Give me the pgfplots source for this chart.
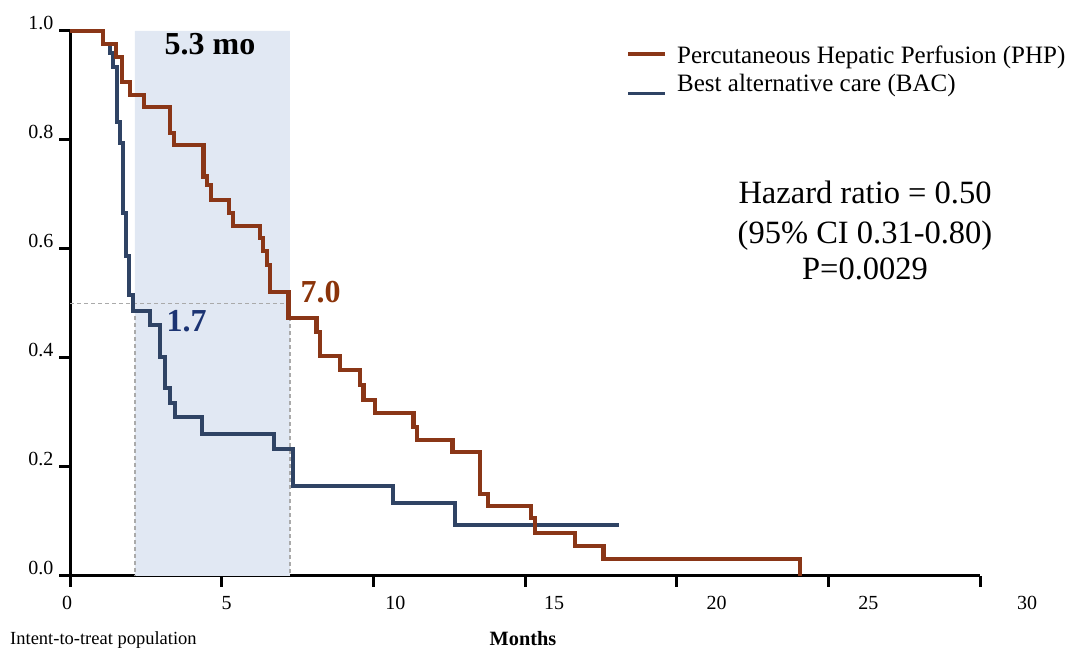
\documentclass[border=0pt]{standalone}
\usepackage{fontspec}
\setmainfont{Liberation Serif}
\usepackage{pgfplots}
\pgfplotsset{compat=1.18}
\definecolor{phpc}{RGB}{138,54,23}
\definecolor{bacc}{RGB}{47,67,100}
\definecolor{phptxt}{RGB}{139,52,10}
\definecolor{bactxt}{RGB}{28,52,115}
\definecolor{shade}{RGB}{225,232,243}
\definecolor{dgray}{RGB}{170,170,170}
\begin{document}
\begin{tikzpicture}
\path[use as bounding box] (0pt,0pt) rectangle (1068pt,648pt);
\begin{axis}[
  at={(70pt,72pt)}, anchor=south west,
  scale only axis, width=910pt, height=545pt,
  xmin=0, xmax=30, ymin=0, ymax=1,
  axis lines=left,
  axis line style={-, line width=3pt, black},
  clip=false,
  xtick={0,5,...,30},
  ytick={0,0.2,0.4,0.6,0.8,1.0},
  yticklabels={0.0,0.2,0.4,0.6,0.8,1.0},
  tick align=outside,
  major tick length=11pt,
  tick style={black, line width=3pt},
  major tick style={black, line width=3pt},
  /pgf/number format/assume math mode=true,
  xticklabel={\pgfmathsetmacro\sh{{-3,5,22,29,40,40,47}[\ticknum]}\makebox[0pt][l]{\hspace*{\sh pt}\makebox[0pt]{\pgfmathprintnumber{\tick}}}},
  x tick label style={font=\fontsize{20}{24}\selectfont, anchor=north, yshift=-6pt},
  y tick label style={font=\fontsize{20}{24}\selectfont, anchor=east, yshift=8pt, xshift=-2pt},
]
% shaded interval
\addplot[draw=none, fill=shade] coordinates {(2.14,0) (7.25,0) (7.25,1) (2.14,1) (2.14,0)};
% median guide lines
\addplot[dgray, line width=1.6pt, dash pattern=on 4pt off 3pt] coordinates {(0,0.5) (7.25,0.5)};
\addplot[dgray, line width=1.6pt, dash pattern=on 4pt off 3pt] coordinates {(2.14,0.49) (2.14,0)};
\addplot[dgray, line width=1.6pt, dash pattern=on 4pt off 3pt] coordinates {(7.25,0.5) (7.25,0)};
% BAC
\addplot[const plot, bacc, line width=4pt] coordinates {
(0,1) (1.088,0.976) (1.319,0.960) (1.418,0.934) (1.533,0.833) (1.632,0.794)
(1.731,0.666) (1.830,0.587) (1.929,0.516) (2.061,0.486) (2.638,0.461)
(2.967,0.402) (3.132,0.345) (3.297,0.317) (3.462,0.292) (4.352,0.2606)
(6.726,0.233) (7.352,0.165) (10.65,0.134) (12.69,0.0936) (18.10,0.0936)};
% PHP
\addplot[const plot, phpc, line width=4.3pt] coordinates {
(0,1) (1.088,0.976) (1.517,0.952) (1.714,0.906) (1.978,0.883) (2.44,0.861)
(3.297,0.813) (3.429,0.791) (4.40,0.733) (4.517,0.718) (4.649,0.690)
(5.242,0.666) (5.374,0.642) (6.264,0.620) (6.363,0.596) (6.495,0.570)
(6.594,0.521) (7.204,0.473) (8.127,0.448) (8.243,0.404) (8.902,0.378)
(9.562,0.350) (9.677,0.323) (10.056,0.299) (11.326,0.273) (11.441,0.250)
(12.611,0.2275) (13.518,0.150) (13.782,0.128) (15.20,0.106) (15.33,0.079)
(16.65,0.055) (17.59,0.031) (24.07,0)};
\end{axis}
% annotations
\node[anchor=base, font=\fontsize{32}{36}\selectfont\bfseries] at (210pt,593pt) {5.3 mo};
\node[anchor=base, font=\fontsize{32}{36}\selectfont\bfseries, text=phptxt] at (320.5pt,345pt) {7.0};
\node[anchor=base, font=\fontsize{32}{36}\selectfont\bfseries, text=bactxt] at (186.7pt,316pt) {1.7};
% legend
\draw[phpc, line width=3.3pt] (628pt,594pt) -- (665pt,594pt);
\draw[bacc, line width=3.3pt] (628pt,554.7pt) -- (665pt,554.7pt);
\node[anchor=base west, inner sep=0pt, font=\fontsize{25}{30}\selectfont] at (677pt,584.7pt) {Percutaneous Hepatic Perfusion (PHP)};
\node[anchor=base west, inner sep=0pt, font=\fontsize{25}{30}\selectfont] at (677pt,556.3pt) {Best alternative care (BAC)};
% statistics
\node[anchor=base, inner sep=0pt, font=\fontsize{32.5}{38}\selectfont] at (865pt,444.7pt) {Hazard ratio = 0.50};
\node[anchor=base, inner sep=0pt, font=\fontsize{32.5}{38}\selectfont] at (865pt,404.7pt) {(95\% CI 0.31-0.80)};
\node[anchor=base, inner sep=0pt, font=\fontsize{32.5}{38}\selectfont] at (865pt,368pt) {P=0.0029};
% bottom texts
\node[anchor=base west, inner sep=0pt, font=\fontsize{18.5}{22}\selectfont] at (10pt,4pt) {Intent-to-treat population};
\node[anchor=base, inner sep=0pt, font=\fontsize{20.3}{24}\selectfont\bfseries] at (523pt,3pt) {Months};
\end{tikzpicture}
\end{document}
